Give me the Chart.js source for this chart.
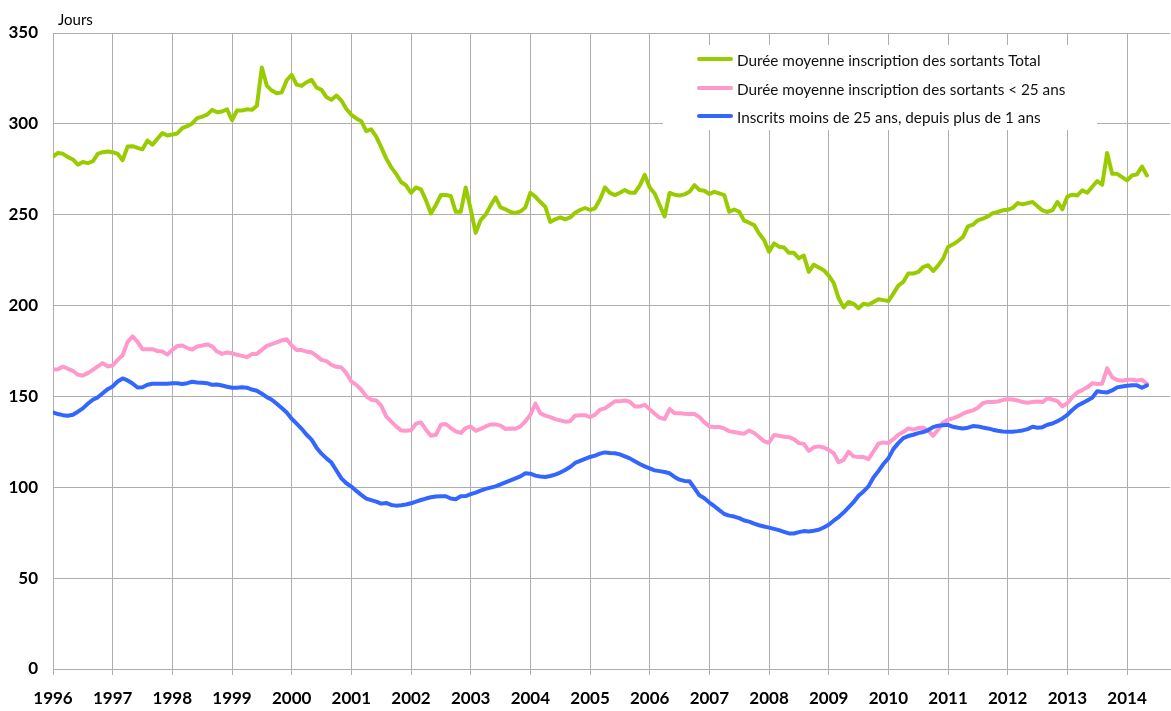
<!DOCTYPE html>
<html lang="fr">
<head>
<meta charset="utf-8">
<title>Durée moyenne d'inscription des sortants</title>
<script src="https://cdn.jsdelivr.net/npm/chart.js@4.4.1/dist/chart.umd.min.js"></script>
<style>
  html, body { margin: 0; padding: 0; background: #fff; }
  .chart-wrap { width: 1171px; height: 711px; position: relative; }
</style>
</head>
<body>
<div class="chart-wrap"><canvas id="chart-duree"></canvas></div>
<script>
// Monthly series, January 1996 onwards (days)
const START_YEAR = 1996;

const dureeTotal = [
  282, 284, 283.5, 281.7, 280.4, 277.5, 279, 278.4, 279.3, 283.5, 284.4, 284.8,
  284.4, 283.5, 280, 287.5, 287.7, 286.8, 286, 290.8, 288.5, 291.8, 294.9, 293.6,
  294.1, 294.7, 297.6, 298.7, 300.2, 303.1, 304, 305.1, 307.7, 306.4, 306.8, 308,
  302, 307.3, 307.3, 308, 307.7, 310, 331, 321, 318.3, 316.8, 317.4, 324,
  327, 321.6, 320.9, 322.9, 324.2, 320, 318.7, 314.7, 313.2, 315.6, 312.8, 308.2,
  305, 303, 301.5, 296, 297, 293, 287.2, 281, 276.2, 272.5, 268, 266.1,
  262, 265, 263.9, 258, 250.7, 255.3, 260.8, 260.8, 260.3, 251.6, 251.6, 265,
  253, 240, 247, 250, 255, 259.5, 254, 253, 251.5, 251, 251.8, 254,
  262, 260, 257, 254.4, 246, 247.5, 248.5, 247.4, 248.5, 251.1, 252.6, 253.7,
  252.6, 253.5, 258.4, 265, 262, 260.8, 262.1, 263.6, 262.1, 262.1, 266, 272,
  265, 261.7, 255.3, 249, 262, 261, 260.6, 261.2, 262.6, 266.3, 263.6, 263.2,
  261.4, 262.6, 261.7, 260.8, 251.6, 252.9, 251.6, 246.7, 245.6, 244.3, 239.7, 236.1,
  229.7, 234.2, 232.4, 232, 229, 229, 226, 227.5, 218.5, 222.5, 221, 219.5,
  216.5, 212.5, 204, 199, 202, 201, 198.5, 201, 200.5, 202, 203.5, 203,
  202.5, 206.6, 211, 213, 217.6, 217.6, 218.5, 221.2, 222.2, 219, 222, 225.8,
  232.2, 233.7, 235.5, 237.7, 243.6, 244.5, 246.9, 247.8, 249.1, 250.9, 251.5, 252.4,
  252.7, 253.7, 256.4, 255.7, 256.4, 257, 254.6, 252.4, 251.5, 252.5, 257, 253,
  260, 261, 260.6, 263.4, 262.1, 265.4, 268.5, 266.5, 284, 272.5, 272.5, 270.7,
  268.9, 271.6, 272.2, 276.5, 271.6
];

const dureeMoins25 = [
  164.8, 165, 166.5, 165.2, 164.1, 161.9, 161.5, 162.8, 164.6, 166.5, 168.3, 166.5,
  167, 170.1, 172.7, 180, 183, 180, 176, 176, 176, 175, 174.7, 173,
  175.6, 177.7, 178, 176.6, 175.8, 177.5, 178, 178.6, 177.5, 174.7, 173.4, 174.2,
  173.8, 172.9, 172.3, 171.6, 173.3, 173.4, 175.6, 177.8, 178.8, 179.7, 180.8, 181.5,
  178, 175.5, 175.5, 174.7, 174.2, 172.3, 170.1, 169.4, 167.4, 166.3, 165.9, 162.8,
  158.2, 156.4, 153.7, 150, 148.2, 147.8, 144.9, 139, 136.3, 133.5, 131.3, 131.1,
  131.4, 135, 135.7, 131.7, 128.4, 128.9, 134.4, 134.8, 132.6, 130.8, 129.9, 132.6,
  133.5, 131.1, 132.1, 133.5, 134.6, 134.6, 133.9, 132.1, 132.4, 132.2, 133.5, 136.3,
  139.9, 146, 140.8, 139.4, 138.6, 137.5, 136.8, 136.1, 136.4, 139.4, 139.7, 139.7,
  138.6, 139.9, 142.7, 143.4, 145.4, 147.3, 147.3, 147.8, 147.1, 144.5, 144.5, 145.4,
  143, 140.5, 138.3, 137.5, 143, 140.8, 140.8, 140.5, 140.3, 140.3, 138.6, 135.7,
  133.5, 133.2, 133.2, 132.4, 130.8, 130.4, 129.9, 129.5, 131.3, 129.9, 127.7, 125.3,
  124.5, 128.8, 128.4, 127.8, 127.6, 126.5, 124.3, 123.9, 120, 122, 122.5, 121.9,
  120.6, 118.8, 113.8, 115.1, 119.5, 117, 116.6, 116.6, 115.5, 119.7, 124, 124.7,
  124.3, 126.5, 128.9, 130.4, 132.4, 131.7, 132.6, 132.8, 131.3, 128.3, 131.7, 135.7,
  137.2, 137.9, 139, 140.5, 141.6, 142.3, 143.8, 146.3, 146.9, 146.9, 147.2, 148,
  148.5, 148.3, 147.8, 146.9, 146.5, 146.9, 147.2, 146.9, 149, 148.2, 147.4, 144.5,
  146.3, 149.6, 152.2, 153.5, 155, 157.2, 156.8, 157, 165.5, 160.5, 159, 158.6,
  159.2, 159.2, 158.8, 159.2, 157
];

const inscritsMoins25 = [
  141.2, 140.3, 139.7, 139.4, 139.9, 141.6, 143.4, 146, 148.2, 149.5, 151.8, 154,
  155.5, 158.2, 159.9, 158.8, 157.1, 154.9, 155, 156.4, 157, 157, 157, 157,
  157.3, 157.3, 156.8, 157.3, 158.1, 157.7, 157.5, 157.3, 156.4, 156.6, 156, 155.3,
  154.8, 154.8, 155, 154.8, 153.8, 153.1, 151.5, 149.6, 148.2, 146, 143.6, 141.2,
  137.7, 135, 132.2, 128.9, 126.2, 121.8, 118.5, 115.9, 113.6, 109.2, 104.9, 102.2,
  100.4, 98, 95.8, 93.8, 92.9, 92.1, 91, 91.4, 90.3, 89.9, 90.1, 90.5,
  91.2, 92.1, 93, 93.8, 94.5, 94.9, 95.1, 95.1, 93.8, 93.4, 95.1, 95.2,
  96.2, 97.1, 98.2, 99.1, 99.8, 100.5, 101.6, 102.7, 103.8, 104.9, 106, 107.7,
  107.5, 106.4, 105.9, 105.7, 106.2, 107, 108.1, 109.5, 111.2, 113.4, 114.5, 115.6,
  116.7, 117.4, 118.5, 119.2, 118.9, 118.7, 118.1, 117, 115.9, 114.3, 112.8, 111.5,
  110.4, 109.3, 108.9, 108.4, 107.7, 105.7, 104.2, 103.5, 103.3, 99.6, 95.6, 94,
  91.6, 89.6, 87.4, 85.3, 84.4, 83.9, 83, 81.7, 81.1, 80, 79.1, 78.4,
  77.8, 77.1, 76.4, 75.5, 74.6, 74.6, 75.3, 75.9, 75.7, 76.1, 76.6, 77.9,
  79.4, 81.6, 83.6, 86.1, 88.9, 91.8, 95.3, 97.7, 100.5, 105.4, 108.9, 112.8,
  115.9, 121, 124.3, 127.1, 128.2, 128.9, 129.8, 130.4, 131.5, 133.1, 133.9, 134.2,
  134.4, 133.3, 132.8, 132.4, 132.8, 133.7, 133.5, 132.9, 132.4, 131.7, 131.1, 130.7,
  130.6, 130.6, 130.9, 131.3, 132, 133.3, 132.8, 133.1, 134.4, 135.1, 136.4, 137.9,
  139.9, 142.5, 144.9, 146.3, 147.8, 149.3, 152.8, 152.4, 152.2, 153.3, 155, 155.5,
  155.9, 156.1, 156.1, 154.8, 156.1
];

const seriesLabels = [
  "Durée moyenne inscription des sortants Total",
  "Durée moyenne inscription des sortants < 25 ans",
  "Inscrits moins de 25 ans, depuis plus de 1 ans"
];
const seriesColors = ["#99CC00", "#FF99CC", "#3366FF"];

const GRID = "#ADADAD";
const FONT = "Lato, 'Open Sans', sans-serif";

// month index -> fractional year
function toPoints(values) {
  return values.map((v, i) => ({ x: START_YEAR + i / 12, y: v }));
}

// Legend box sitting inside the plot, plus the "Jours" unit label
const legendBox = {
  id: "legendBox",
  afterDraw(chart) {
    const ctx = chart.ctx;
    ctx.save();

    ctx.fillStyle = "#000";
    ctx.font = "15px " + FONT;
    ctx.textBaseline = "alphabetic";
    ctx.fillText("Jours", 58, 25);

    ctx.fillStyle = "#fff";
    ctx.fillRect(663, 45, 434, 85);

    const rows = [59, 88, 116];
    ctx.lineWidth = 4;
    ctx.lineCap = "round";
    ctx.font = "15.3px " + FONT;
    ctx.textBaseline = "middle";
    rows.forEach((y, i) => {
      ctx.strokeStyle = seriesColors[i];
      ctx.beginPath();
      ctx.moveTo(699, y);
      ctx.lineTo(731, y);
      ctx.stroke();
      ctx.fillStyle = "#111";
      ctx.fillText(seriesLabels[i], 737, y + 2);
    });

    ctx.restore();
  },
};

function lineDataset(label, values, color, order) {
  return {
    label: label,
    data: toPoints(values),
    borderColor: color,
    backgroundColor: color,
    borderWidth: 4,
    pointRadius: 0,
    pointHoverRadius: 0,
    tension: 0,
    borderJoinStyle: "round",
    borderCapStyle: "round",
    fill: false,
    order: order,
  };
}

const chartEl = document.getElementById("chart-duree");

new Chart(chartEl, {
  type: "line",
  data: {
    datasets: [
      lineDataset(seriesLabels[0], dureeTotal, seriesColors[0], 3),
      lineDataset(seriesLabels[1], dureeMoins25, seriesColors[1], 2),
      lineDataset(seriesLabels[2], inscritsMoins25, seriesColors[2], 1),
    ],
  },
  options: {
    responsive: true,
    maintainAspectRatio: false,
    animation: false,
    layout: { padding: { top: 33, right: 1, left: 0, bottom: 0 } },
    plugins: {
      legend: { display: false },
      tooltip: { enabled: false },
    },
    scales: {
      x: {
        type: "linear",
        min: START_YEAR,
        max: 2014.72,
        afterFit: (scale) => { scale.height = 42; },
        grid: { color: GRID, lineWidth: 1, drawTicks: true, tickLength: 6 },
        border: { color: GRID, width: 1 },
        ticks: {
          stepSize: 1,
          includeBounds: false,
          autoSkip: false,
          maxRotation: 0,
          padding: 13,
          color: "#000",
          font: { family: FONT, size: 17, weight: "bold" },
          callback: (value) => String(value),
        },
      },
      y: {
        min: 0,
        max: 350,
        afterFit: (scale) => { scale.width = 53; },
        grid: { color: GRID, lineWidth: 1, drawTicks: false },
        border: { color: GRID, width: 1 },
        ticks: {
          stepSize: 50,
          padding: 15,
          color: "#000",
          font: { family: FONT, size: 17, weight: "bold" },
        },
      },
    },
  },
  plugins: [legendBox],
});
</script>
</body>
</html>
